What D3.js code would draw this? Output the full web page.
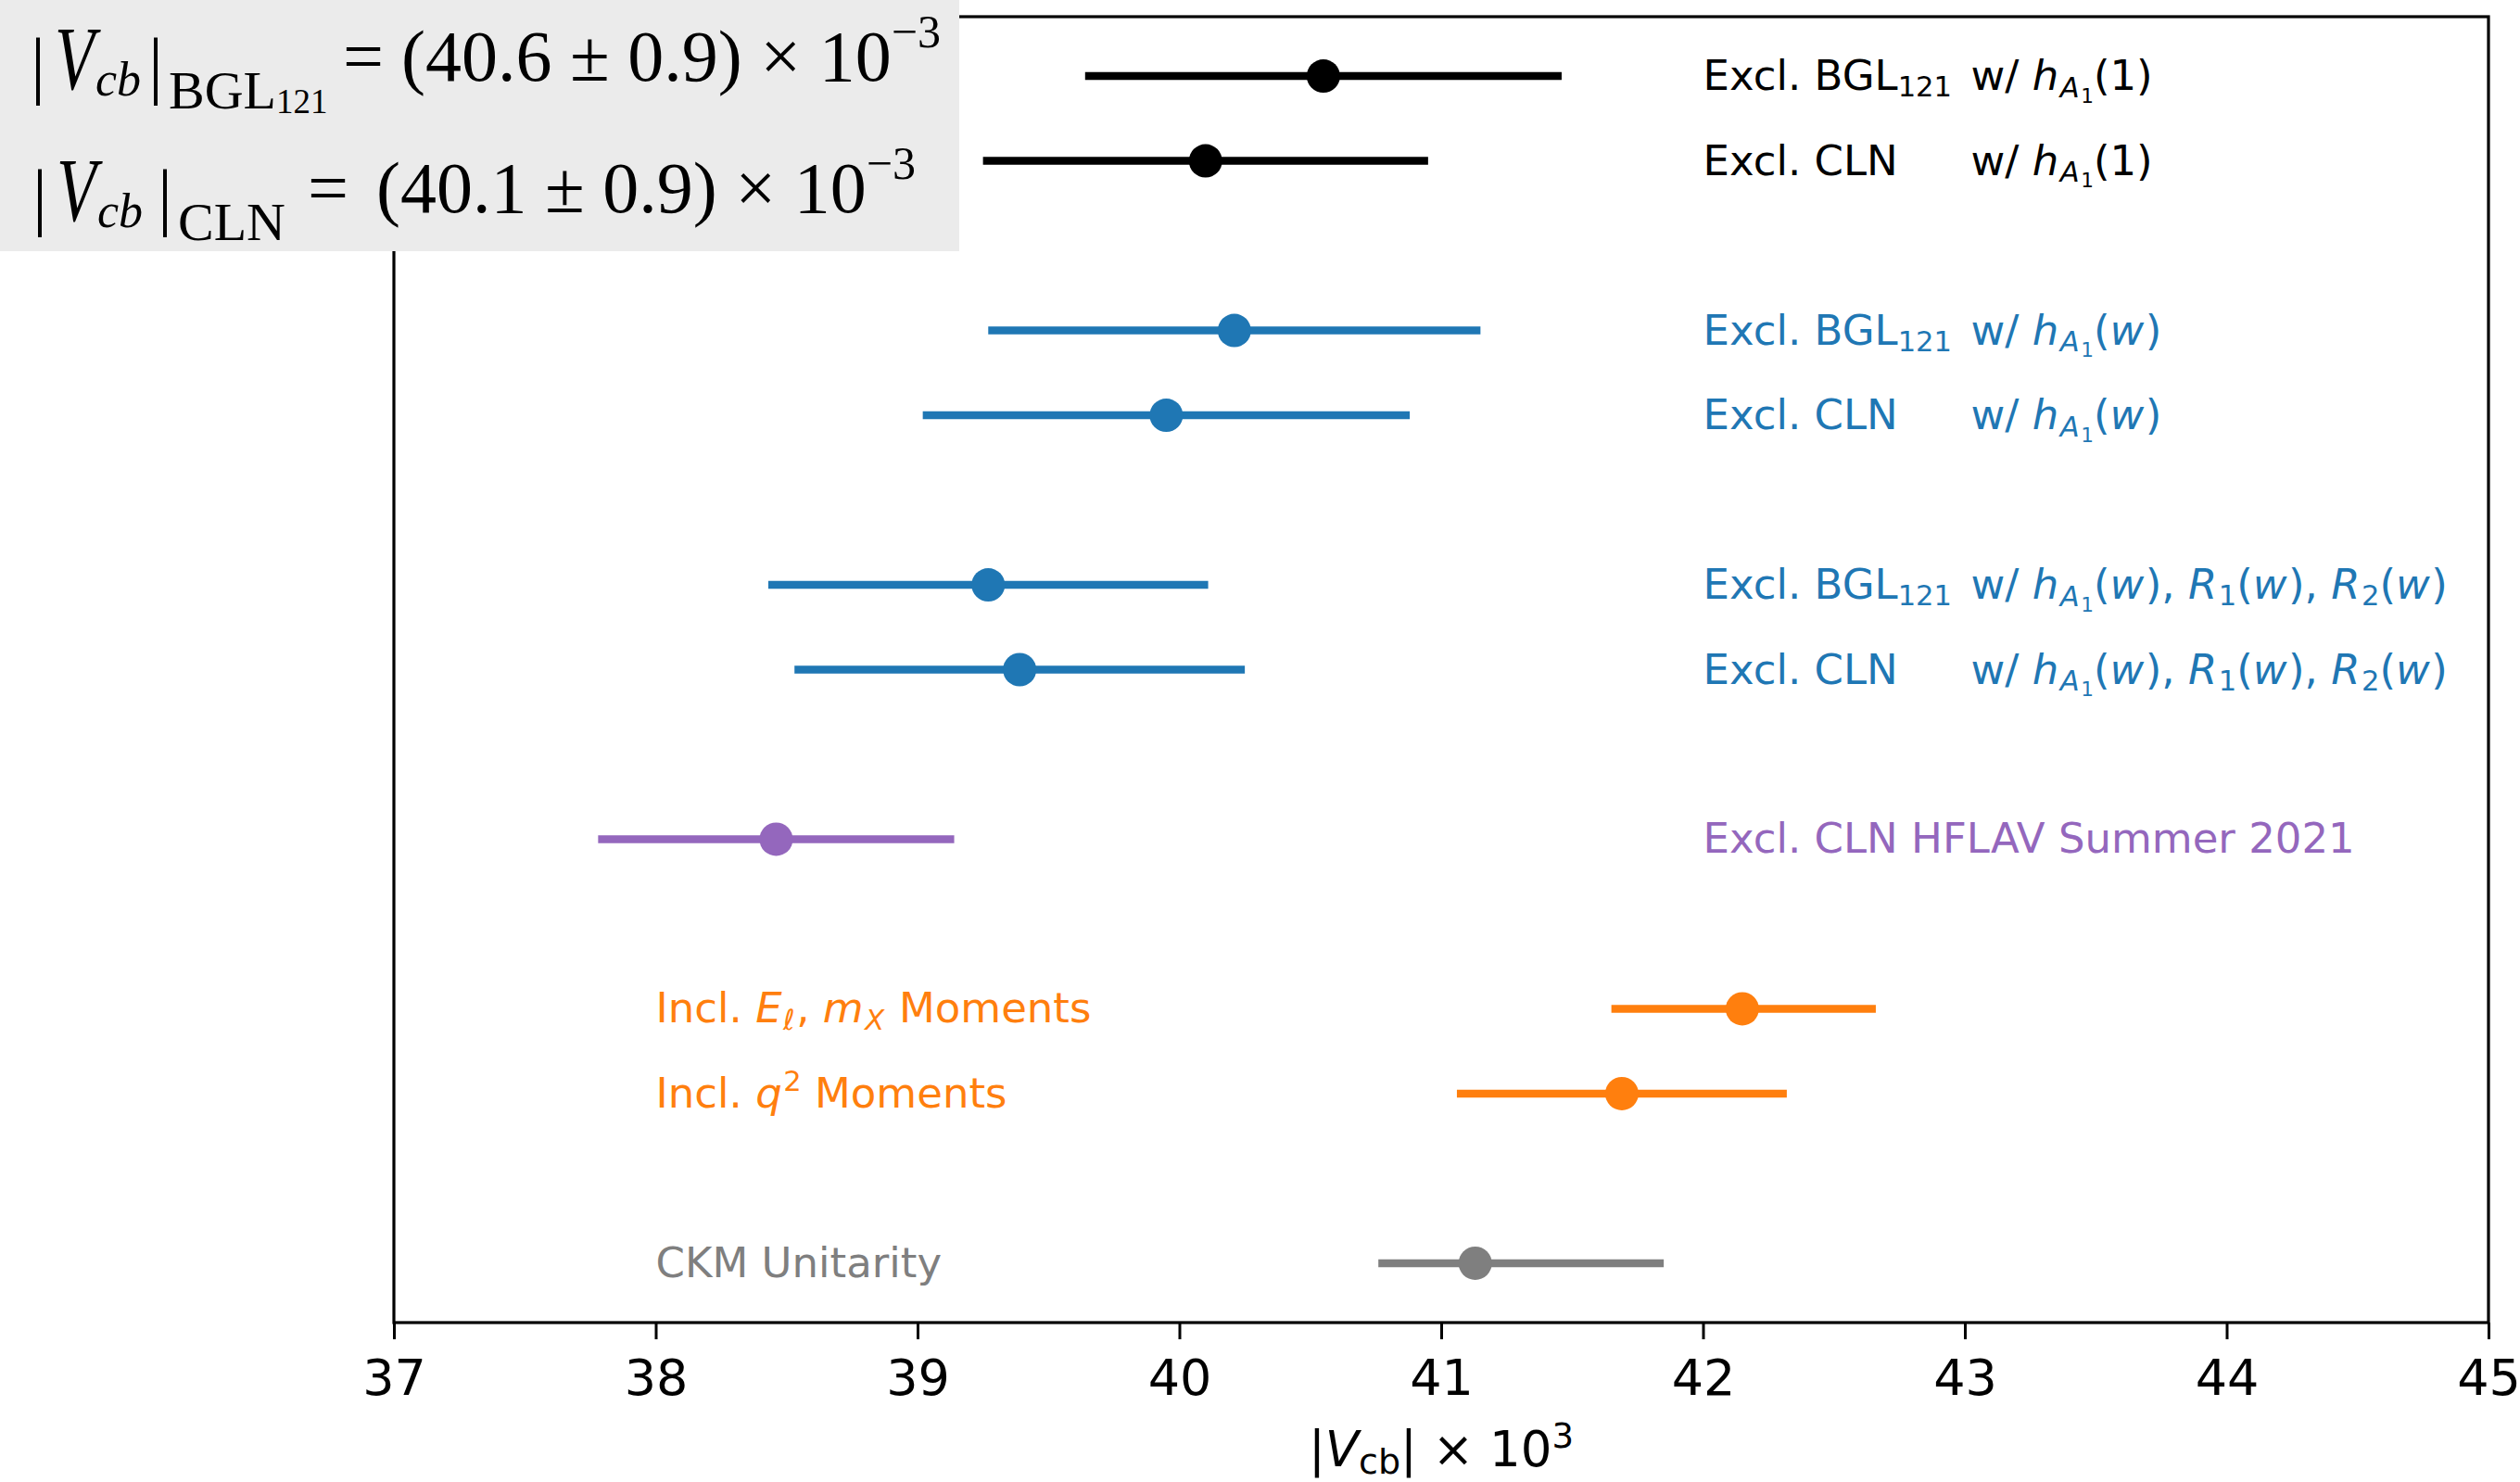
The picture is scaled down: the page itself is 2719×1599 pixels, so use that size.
<!DOCTYPE html>
<html>
<head>
<meta charset="utf-8">
<script src="https://cdn.jsdelivr.net/npm/d3@7"></script>
<style>
  html, body { margin: 0; padding: 0; background: #fff; }
  svg text { white-space: pre; }
</style>
</head>
<body>
<div id="chart"></div>
<script>
// rows from top to bottom
const rowPos  = [0, 1, 3, 4, 6, 7, 9, 11, 12, 14]
const centers = [40.55, 40.10, 40.21, 39.95, 39.27, 39.39, 38.46, 42.15, 41.69, 41.13]
const errLow  = [0.91, 0.85, 0.94, 0.93, 0.84, 0.86, 0.68, 0.50, 0.63, 0.37]
const errHigh = [0.91, 0.85, 0.94, 0.93, 0.84, 0.86, 0.68, 0.51, 0.63, 0.72]
const rowColors = ["#000000", "#000000", "#1f77b4", "#1f77b4", "#1f77b4", "#1f77b4",
                   "#9467bd", "#ff7f0e", "#ff7f0e", "#7f7f7f"]
const labelAt = [42, 42, 42, 42, 42, 42, 42, 38, 38, 38]
// label pieces: [text, kind]; "tab" lines up the "w/" part
const labels = [
  [["Excl. BGL"], ["121", "sub"], ["w/ ", "tab"], ["h", "it"], ["A", "itsub"], ["1", "subsub"], ["(1)"]],
  [["Excl. CLN"], ["w/ ", "tab"], ["h", "it"], ["A", "itsub"], ["1", "subsub"], ["(1)"]],
  [["Excl. BGL"], ["121", "sub"], ["w/ ", "tab"], ["h", "it"], ["A", "itsub"], ["1", "subsub"], ["("], ["w", "it"], [")"]],
  [["Excl. CLN"], ["w/ ", "tab"], ["h", "it"], ["A", "itsub"], ["1", "subsub"], ["("], ["w", "it"], [")"]],
  [["Excl. BGL"], ["121", "sub"], ["w/ ", "tab"], ["h", "it"], ["A", "itsub"], ["1", "subsub"], ["("], ["w", "it"], ["), "],
   ["R", "it"], ["1", "sub"], ["("], ["w", "it"], ["), "], ["R", "it"], ["2", "sub"], ["("], ["w", "it"], [")"]],
  [["Excl. CLN"], ["w/ ", "tab"], ["h", "it"], ["A", "itsub"], ["1", "subsub"], ["("], ["w", "it"], ["), "],
   ["R", "it"], ["1", "sub"], ["("], ["w", "it"], ["), "], ["R", "it"], ["2", "sub"], ["("], ["w", "it"], [")"]],
  [["Excl. CLN HFLAV Summer 2021"]],
  [["Incl. "], ["E", "it"], ["ℓ", "itsub"], [", "], ["m", "it"], ["X", "itsub"], [" Moments"]],
  [["Incl. "], ["q", "it"], ["2", "sup"], [" Moments"]],
  [["CKM Unitarity"]]
]
const xTicks = [37, 38, 39, 40, 41, 42, 43, 44, 45]

// summary box
const sumNames  = ["BGL", "CLN"]
const sumSub    = ["121", ""]
const sumValues = ["40.6", "40.1"]
const sumErrors = ["0.9", "0.9"]

const W = 2719, H = 1599
const plot = {left: 425, right: 2685, top: 18, bottom: 1427}

const svg = d3.select("#chart").append("svg")
    .attr("width", W).attr("height", H)

const x = d3.scaleLinear().domain([37, 45]).range([plot.left, plot.right])
const y = d3.scaleLinear().domain([-0.7, 14.7]).range([plot.top, plot.bottom])

// x axis
const xAxis = svg.append("g")
    .attr("transform", `translate(0,${plot.bottom})`)
    .call(d3.axisBottom(x).tickValues(xTicks).tickSize(18).tickPadding(22).tickFormat(d3.format("d")))
xAxis.select(".domain").remove()
xAxis.selectAll(".tick line").attr("stroke", "#000").attr("stroke-width", 3)
xAxis.selectAll(".tick text")
    .attr("font-family", "DejaVu Sans").attr("font-size", 54).attr("fill", "#000")

// frame
svg.append("rect")
    .attr("x", plot.left).attr("y", plot.top)
    .attr("width", plot.right - plot.left).attr("height", plot.bottom - plot.top)
    .attr("fill", "none").attr("stroke", "#000").attr("stroke-width", 3.2)

const fs = 45
const kinds = {
  n:      {f: 1,    d: 0,     it: false},
  it:     {f: 1,    d: 0,     it: true},
  tab:    {f: 1,    d: 0,     it: false},
  sub:    {f: 0.68, d: 0.16,  it: false},
  itsub:  {f: 0.68, d: 0.17,  it: true},
  subsub: {f: 0.48, d: 0.3,   it: false},
  sup:    {f: 0.68, d: -0.4,  it: false}
}

function richText(g, x0, y0, segs, color, size) {
  const t = g.append("text")
      .attr("x", x0).attr("y", y0)
      .attr("font-family", "DejaVu Sans").attr("font-size", size)
      .attr("fill", color)
  let cur = 0
  segs.forEach(function(s) {
    const k = kinds[s[1] || "n"]
    const target = k.d * size
    const ts = t.append("tspan")
        .text(s[0])
        .attr("font-size", size * k.f)
        .attr("dy", target - cur)
    if (k.it) ts.attr("font-style", "italic").attr("letter-spacing", 1.5)
    if (s[1] == "tab") ts.attr("class", "tab")
    cur = target
  })
  return t
}

// width of "Excl. BGL_121 " for lining up the w/ parts
const probe = richText(svg, 0, -100, [["Excl. BGL"], ["121", "sub"], [" "]], "#000", fs)
const tabW = probe.node().getComputedTextLength() + 6
probe.remove()

// error bars
svg.selectAll("line.err")
    .data(centers)
    .enter()
    .append("line")
      .attr("class", "err")
      .attr("x1", (d, i) => x(d - errLow[i]))
      .attr("x2", (d, i) => x(d + errHigh[i]))
      .attr("y1", (d, i) => y(rowPos[i]))
      .attr("y2", (d, i) => y(rowPos[i]))
      .attr("stroke", (d, i) => rowColors[i])
      .attr("stroke-width", 8.5)

svg.selectAll("circle.pt")
    .data(centers)
    .enter()
    .append("circle")
      .attr("class", "pt")
      .attr("cx", d => x(d))
      .attr("cy", (d, i) => y(rowPos[i]))
      .attr("r", 18)
      .attr("fill", (d, i) => rowColors[i])

// labels
labels.forEach(function(segs, i) {
  const x0 = x(labelAt[i])
  const t = richText(svg, x0, y(rowPos[i]) + 15, segs, rowColors[i], fs)
  t.selectAll("tspan.tab").attr("x", x0 + tabW)
})

// x label
const xl = svg.append("text")
    .attr("x", (plot.left + plot.right) / 2).attr("y", 1582)
    .attr("text-anchor", "middle")
    .attr("font-family", "DejaVu Sans").attr("font-size", 53).attr("fill", "#000")
xl.append("tspan").text("|")
xl.append("tspan").text("V").attr("font-style", "italic")
xl.append("tspan").text("cb").attr("font-size", 38).attr("dy", 8)
xl.append("tspan").text("| × 10").attr("dy", -8)
xl.append("tspan").text("3").attr("font-size", 37).attr("dy", -20)

// summary box top left
svg.append("rect")
    .attr("x", 0).attr("y", 0).attr("width", 1035).attr("height", 271)
    .attr("fill", "#ebebeb")

const serif = "Liberation Serif"
const lineBase = [87, 229]
const barX = [[33, 160], [35, 170]]
const eqX = [370, 332]
const parX = [433, 406]

sumNames.forEach(function(name, i) {
  const b = lineBase[i]
  const g = svg.append("g").attr("font-family", serif).attr("fill", "#000")
  g.append("text").attr("x", barX[i][0]).attr("y", b + 10).attr("font-size", 80).text("|")
  g.append("text")
      .attr("transform", `translate(${barX[i][0] + 26},${b + 9}) scale(0.8,1.1)`)
      .attr("font-size", 88).attr("font-style", "italic").text("V")
  g.append("text").attr("x", barX[i][0] + 70).attr("y", b + 16)
      .attr("font-size", 52).attr("font-style", "italic").text("cb")
  g.append("text").attr("x", barX[i][1]).attr("y", b + 10).attr("font-size", 80).text("|")
  const sub = g.append("text").attr("x", barX[i][1] + 22).attr("y", b + 30).attr("font-size", 58)
  sub.append("tspan").text(name)
  if (sumSub[i]) sub.append("tspan").text(sumSub[i]).attr("font-size", 37).attr("dy", 5)
  g.append("text").attr("x", eqX[i]).attr("y", b).attr("font-size", 78).text("=")
  const v = g.append("text").attr("x", parX[i]).attr("y", b).attr("font-size", 78)
  v.append("tspan").text("(" + sumValues[i] + " ± " + sumErrors[i] + ") × 10")
  v.append("tspan").text("−3").attr("font-size", 50).attr("dy", -36)
})
</script>
</body>
</html>
